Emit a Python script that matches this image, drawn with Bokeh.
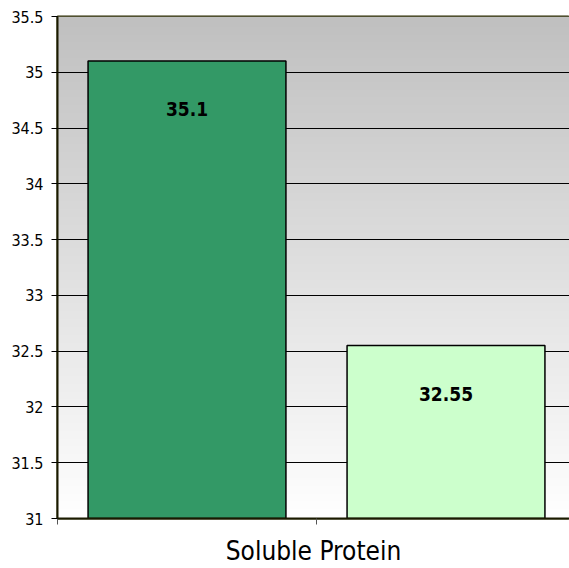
import numpy as np
from bokeh.plotting import figure
from bokeh.models import ColumnDataSource, FixedTicker, Range1d
from bokeh.core.properties import value
from bokeh.embed import file_html
from bokeh.resources import INLINE

# ---- data ----
category = "Soluble Protein"
series_values = [35.1, 32.55]
series_labels = ["35.1", "32.55"]
series_colors = ["#339966", "#CCFFCC"]
y_ticks = [31, 31.5, 32, 32.5, 33, 33.5, 34, 34.5, 35, 35.5]
y_tick_labels = ["31", "31.5", "32", "32.5", "33", "33.5", "34", "34.5", "35", "35.5"]

FONT = "DejaVu Sans Condensed, Roboto, sans-serif"

# bar slots inside the single category (category spans 0..1)
bar_x = [0.25, 0.75]
bar_w = 0.382

src = ColumnDataSource(dict(x=bar_x, top=series_values, color=series_colors,
                            label=series_labels))

p = figure(width=569, height=568, output_backend="svg", toolbar_location=None,
           x_range=Range1d(0, 512 / 518), y_range=Range1d(31, 35.5),
           min_border_left=57, min_border_right=0, min_border_top=16,
           min_border_bottom=50)

p.background_fill_color = "white"
p.border_fill_color = "white"
p.outline_line_color = "#2b2b00"
p.outline_line_width = 2

# gradient background (style only)
n = 256
shade = np.linspace(255, 192, n).astype(np.uint32)
img = np.empty((n, 1), dtype=np.uint32)
view = img.view(dtype=np.uint8).reshape((n, 1, 4))
view[:, 0, 0] = shade
view[:, 0, 1] = shade
view[:, 0, 2] = shade
view[:, 0, 3] = 255
bg = p.image_rgba(image=[img], x=0, y=31, dw=512 / 518, dh=4.5)
bg.level = "image"

p.vbar(x="x", width=bar_w, bottom=31, top="top", source=src,
       fill_color="color", line_color="black", line_width=1.5)

p.text(x="x", y="top", text="label", source=src, y_offset=48,
       text_align="center", text_baseline="middle",
       text_font=value(FONT), text_font_style="bold",
       text_font_size="19px", text_color="black")

# grid
p.xgrid.visible = False
p.ygrid.ticker = FixedTicker(ticks=y_ticks)
p.ygrid.grid_line_color = "black"
p.ygrid.grid_line_width = 1

# y axis
p.yaxis.ticker = FixedTicker(ticks=y_ticks)
p.yaxis.major_label_overrides = {t: l for t, l in zip(y_ticks, y_tick_labels)}
p.yaxis.major_label_text_font = FONT
p.yaxis.major_label_text_font_size = "16px"
p.yaxis.major_label_text_color = "black"
p.yaxis.axis_line_color = "#1a1a00"
p.yaxis.axis_line_width = 2
p.yaxis.major_tick_line_color = "black"
p.yaxis.major_tick_out = 6
p.yaxis.major_tick_in = 0
p.yaxis.minor_tick_line_color = None
p.yaxis.major_label_standoff = 8

# x axis
p.xaxis.ticker = FixedTicker(ticks=[0, 0.5])
p.xaxis.major_label_overrides = {0: " ", 0.5: " "}
p.xaxis.major_label_text_font_size = "1px"
p.xaxis.major_label_standoff = 0
p.xaxis.axis_label = category
p.xaxis.axis_label_text_font = FONT
p.xaxis.axis_label_text_font_style = "normal"
p.xaxis.axis_label_text_font_size = "26px"
p.xaxis.axis_label_text_color = "black"
p.xaxis.axis_label_standoff = 7
p.xaxis.axis_line_color = "#1a1a00"
p.xaxis.axis_line_width = 2
p.xaxis.major_tick_line_color = "#555555"
p.xaxis.major_tick_out = 6
p.xaxis.major_tick_in = 0
p.xaxis.minor_tick_line_color = None

open("out.html", "w").write(file_html(p, INLINE))
